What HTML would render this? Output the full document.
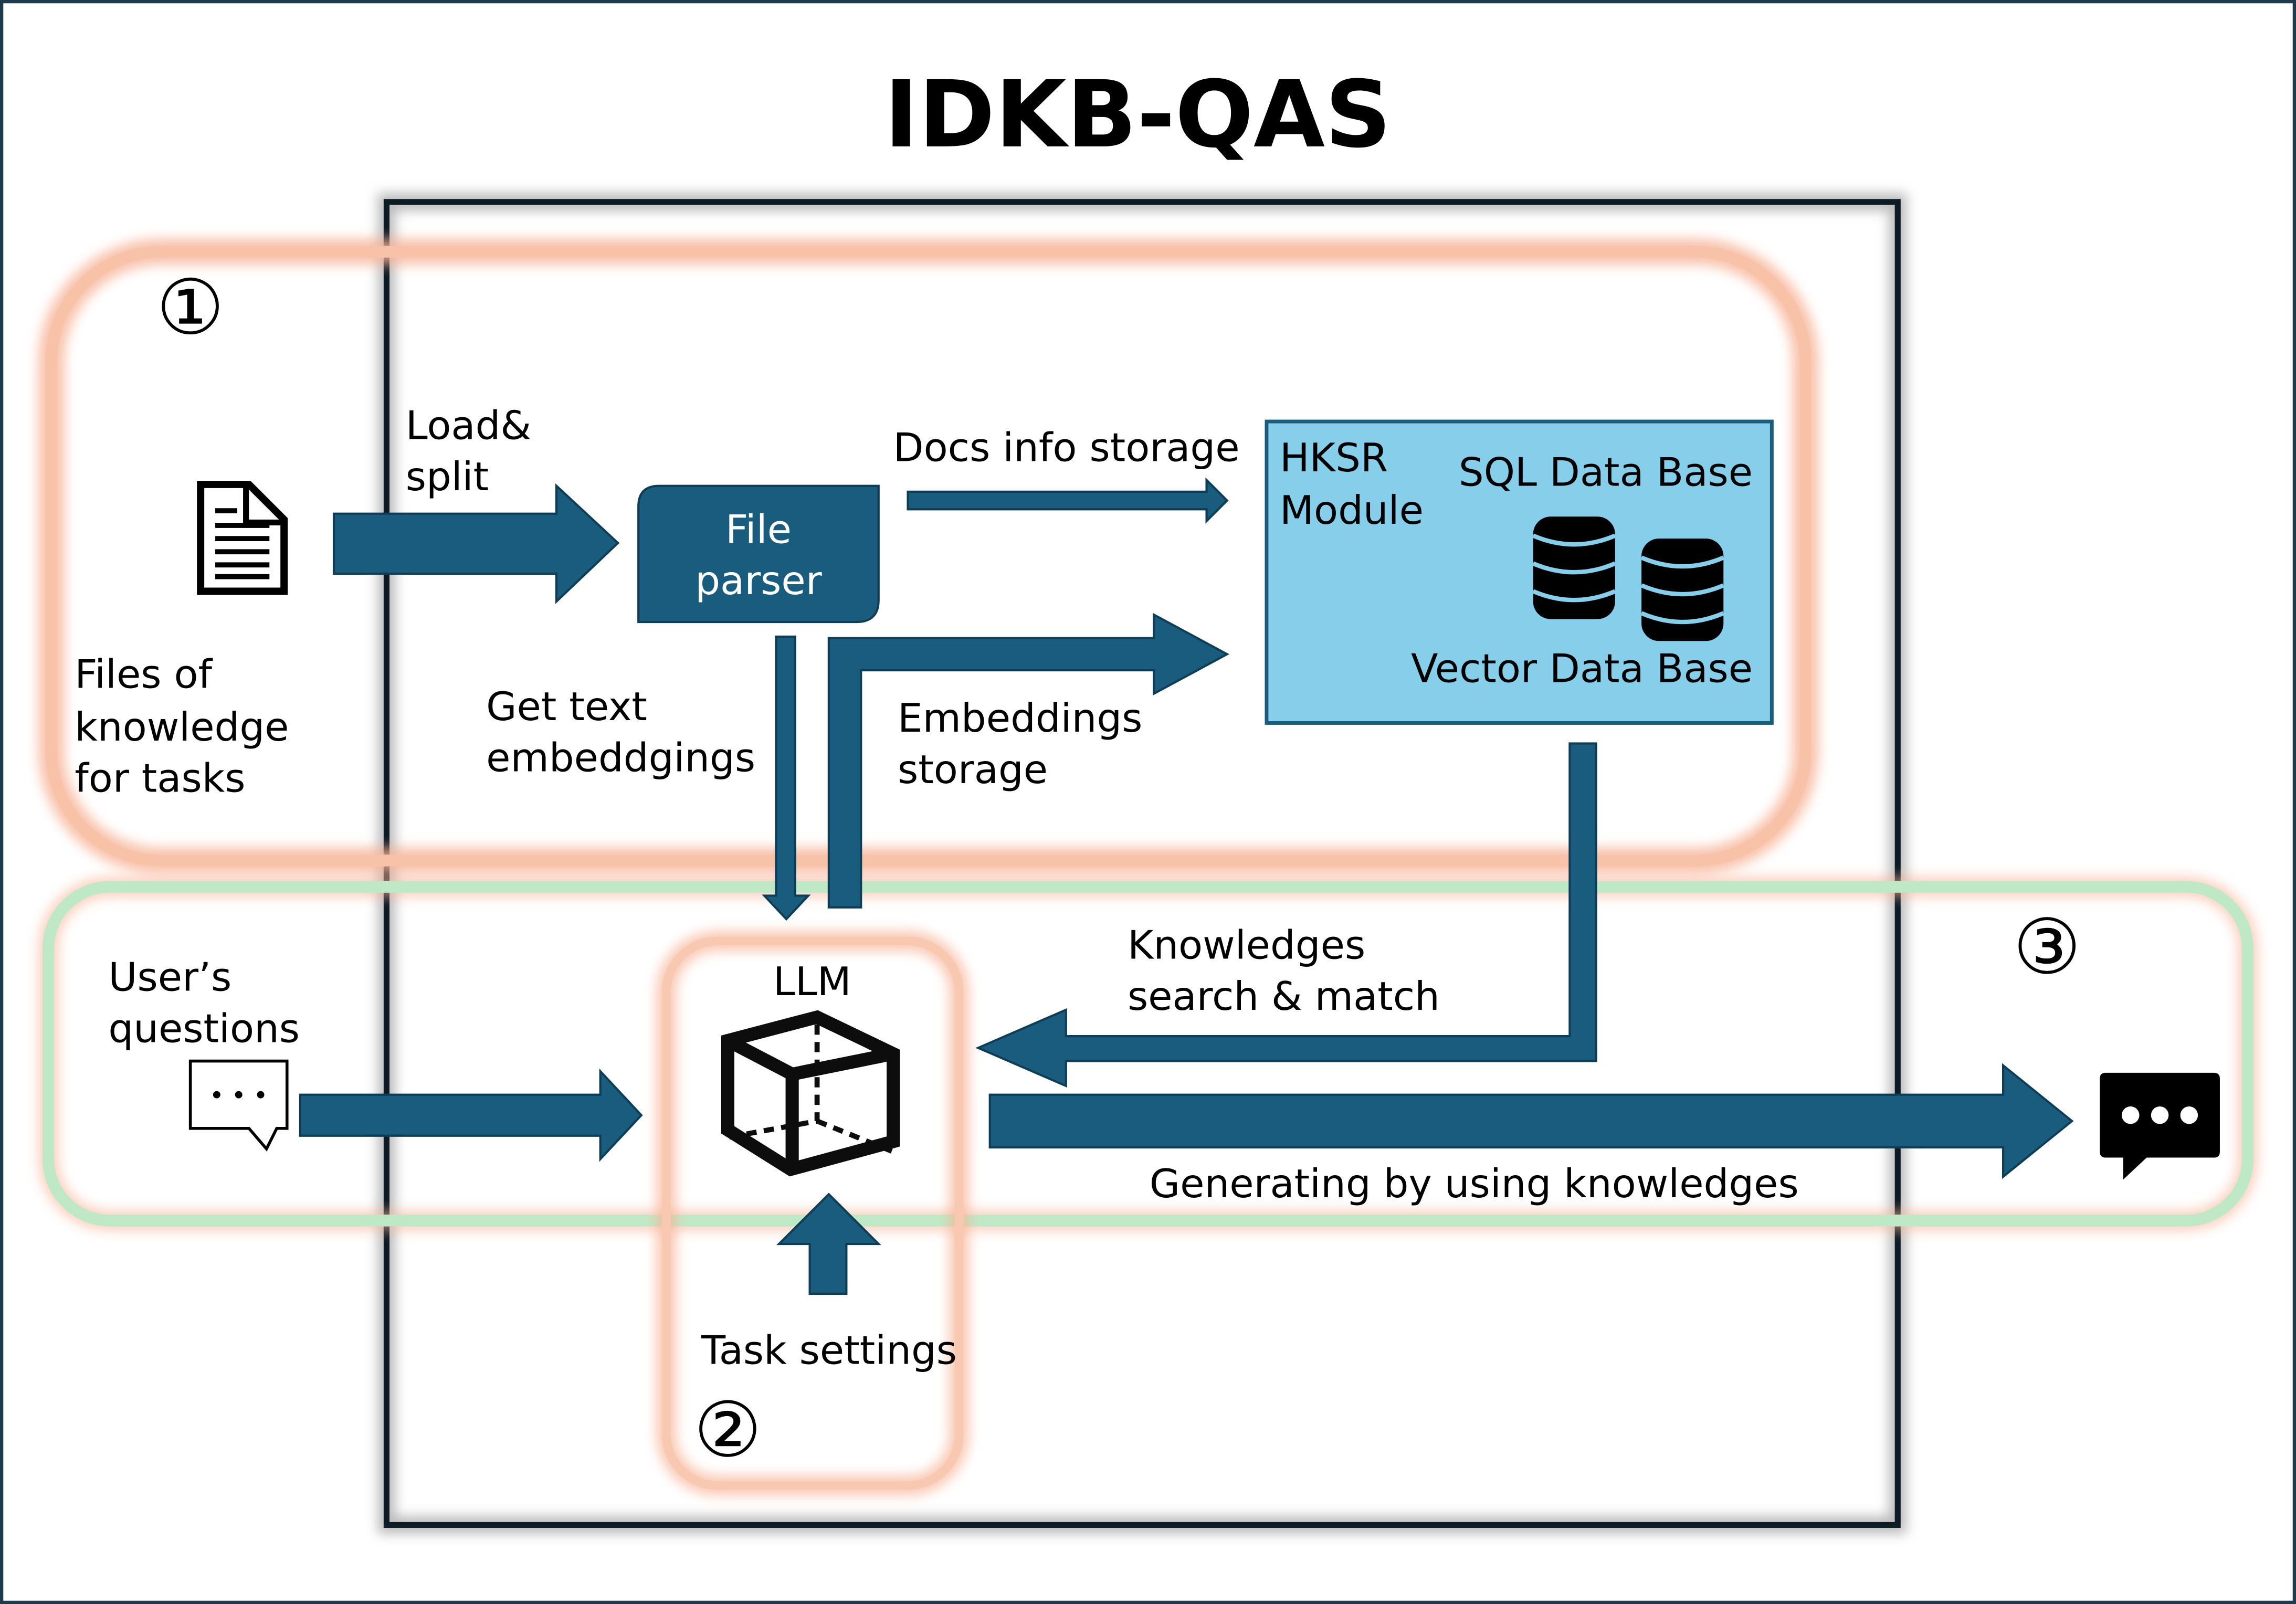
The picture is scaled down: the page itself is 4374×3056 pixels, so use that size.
<!DOCTYPE html>
<html><head><meta charset="utf-8"><style>
html,body{margin:0;padding:0;background:#fff}
svg{display:block}
text{font-family:"DejaVu Sans","Liberation Sans",sans-serif;fill:#000}
</style></head><body>
<svg width="4374" height="3056" viewBox="0 0 1568 1096" preserveAspectRatio="none" xmlns="http://www.w3.org/2000/svg">
<defs>
<filter id="blur" x="-10%" y="-10%" width="120%" height="120%"><feGaussianBlur stdDeviation="4"/></filter>
</defs>
<rect x="0" y="0" width="1568" height="1096" fill="#fff"/>
<rect x="1" y="1" width="1566" height="1094" fill="none" stroke="#1e3a4c" stroke-width="2.5"/>
<text x="777" y="100" font-size="63" font-weight="bold" text-anchor="middle">IDKB-QAS</text>

<rect x="264" y="138" width="1032" height="904" fill="none" stroke="#bbb" stroke-width="12" filter="url(#blur)"/>
<rect x="264" y="138" width="1032" height="904" fill="none" stroke="#0d1b24" stroke-width="4"/>

<rect x="35" y="172" width="1198" height="416" rx="75" fill="none" stroke="#f7b497" stroke-width="18" filter="url(#blur)" opacity="0.8"/>
<rect x="35" y="172" width="1198" height="416" rx="75" fill="none" stroke="#f8c2a8" stroke-width="8"/>

<rect x="33" y="606" width="1502" height="228" rx="42" fill="none" stroke="#f7b497" stroke-width="14" filter="url(#blur)" opacity="0.6"/>
<rect x="33" y="606" width="1502" height="228" rx="42" fill="none" stroke="#bfe9c6" stroke-width="8"/>

<rect x="455" y="643" width="200" height="372" rx="35" fill="none" stroke="#f7b497" stroke-width="14" filter="url(#blur)" opacity="0.7"/>
<rect x="455" y="643" width="200" height="372" rx="35" fill="none" stroke="#f8c8b0" stroke-width="6"/>

<text x="130" y="228" font-size="52" text-anchor="middle">①</text>
<text x="1398" y="665" font-size="52" text-anchor="middle">③</text>
<text x="497" y="995" font-size="52" text-anchor="middle">②</text>

<path d="M137,331 L170,331 L194,355 L194,404 L137,404 Z" fill="#fff" stroke="#000" stroke-width="5"/>
<path d="M168,331 L168,357 L194,357" fill="none" stroke="#000" stroke-width="4"/>
<g stroke="#000" stroke-width="3.5"><line x1="147" y1="349" x2="162" y2="349"/><line x1="147" y1="359" x2="184" y2="359"/><line x1="147" y1="368" x2="184" y2="368"/><line x1="147" y1="377" x2="184" y2="377"/><line x1="147" y1="386" x2="184" y2="386"/><line x1="147" y1="394" x2="184" y2="394"/></g>

<g font-size="27">
<text x="51" y="470">Files of</text>
<text x="51" y="506">knowledge</text>
<text x="51" y="541">for tasks</text>
<text x="277" y="300">Load&amp;</text>
<text x="277" y="335">split</text>
<text x="610" y="315">Docs info storage</text>
<text x="332" y="492">Get text</text>
<text x="332" y="527">embeddgings</text>
<text x="613" y="500">Embeddings</text>
<text x="613" y="535">storage</text>
<text x="74" y="677">User’s</text>
<text x="74" y="712">questions</text>
<text x="770" y="655">Knowledges</text>
<text x="770" y="690">search &amp; match</text>
<text x="785" y="818">Generating by using knowledges</text>
<text x="528" y="680">LLM</text>
<text x="479" y="932" fill="#222">Task settings</text>
</g>

<g fill="#1a5c7e" stroke="#0f3d55" stroke-width="1.5">
<path d="M228,351 L380,351 L380,332 L422,371 L380,411 L380,392 L228,392 Z"/>
<path d="M620,336 L824,336 L824,328 L838,342 L824,356 L824,348 L620,348 Z"/>
<path d="M566,620 L566,436 L788,436 L788,420 L838,447 L788,474 L788,458 L588,458 L588,620 Z"/>
<path d="M530,435 L543,435 L543,612 L552,612 L537,628 L522,612 L530,612 Z"/>
<path d="M1072,508 L1090,508 L1090,725 L728,725 L728,742 L668,716 L728,690 L728,708 L1072,708 Z"/>
<path d="M676,748 L1368,748 L1368,728 L1415,766 L1368,804 L1368,784 L676,784 Z"/>
<path d="M205,748 L410,748 L410,732 L438,762 L410,792 L410,776 L205,776 Z"/>
<path d="M553,884 L578,884 L578,850 L600,850 L566,816 L532,850 L553,850 Z"/>
</g>

<path d="M450,332 L600,332 L600,410 Q600,425 585,425 L436,425 L436,346 Q436,332 450,332 Z" fill="#1a5c7e" stroke="#0f3d55" stroke-width="1.5"/>
<text x="518" y="371" font-size="27" text-anchor="middle" style="fill:#fff">File</text>
<text x="518" y="406" font-size="27" text-anchor="middle" style="fill:#fff">parser</text>

<rect x="865" y="288" width="345" height="206" fill="#87ceeb" stroke="#1a5c7e" stroke-width="2.5"/>
<g font-size="27">
<text x="874" y="322">HKSR</text>
<text x="874" y="358">Module</text>
<text x="1197" y="332" text-anchor="end">SQL Data Base</text>
<text x="1197" y="466" text-anchor="end">Vector Data Base</text>
</g>
<g fill="#000">
<rect x="1047" y="353" width="56" height="70" rx="12"/>
<rect x="1121" y="368" width="56" height="70" rx="12"/>
</g>
<g stroke="#87ceeb" stroke-width="3" fill="none">
<path d="M1047,366 Q1075,378 1103,366"/><path d="M1047,385 Q1075,397 1103,385"/><path d="M1047,404 Q1075,416 1103,404"/>
<path d="M1121,381 Q1149,393 1177,381"/><path d="M1121,400 Q1149,412 1177,400"/><path d="M1121,419 Q1149,431 1177,419"/>
</g>

<g fill="none" stroke="#0d0d0d">
<path d="M497,711 L558,695 L610,720 L610,780 L540,799 L497,772 Z" stroke-width="9" stroke-linejoin="miter"/>
<path d="M497,711 L541,734 L610,720 M541,734 L541,799" stroke-width="9"/>
<path d="M558,700 L558,766 L498,777 M558,766 L610,787" stroke-width="3.5" stroke-dasharray="7,5"/>
</g>

<path d="M130,725 L196,725 L196,771 L189,771 L182,785 L170,771 L130,771 Z" fill="#fff" stroke="#000" stroke-width="2"/>
<g fill="#000"><circle cx="148" cy="748" r="2.5"/><circle cx="163" cy="748" r="2.5"/><circle cx="178" cy="748" r="2.5"/></g>
<path d="M1438,733 L1512,733 Q1516,733 1516,737 L1516,787 Q1516,791 1512,791 L1466,791 L1450,806 L1450,791 L1438,791 Q1434,791 1434,787 L1434,737 Q1434,733 1438,733 Z" fill="#000"/>
<g fill="#fff"><circle cx="1455" cy="762" r="6"/><circle cx="1475" cy="762" r="6"/><circle cx="1495" cy="762" r="6"/></g>
</svg>
</body></html>
